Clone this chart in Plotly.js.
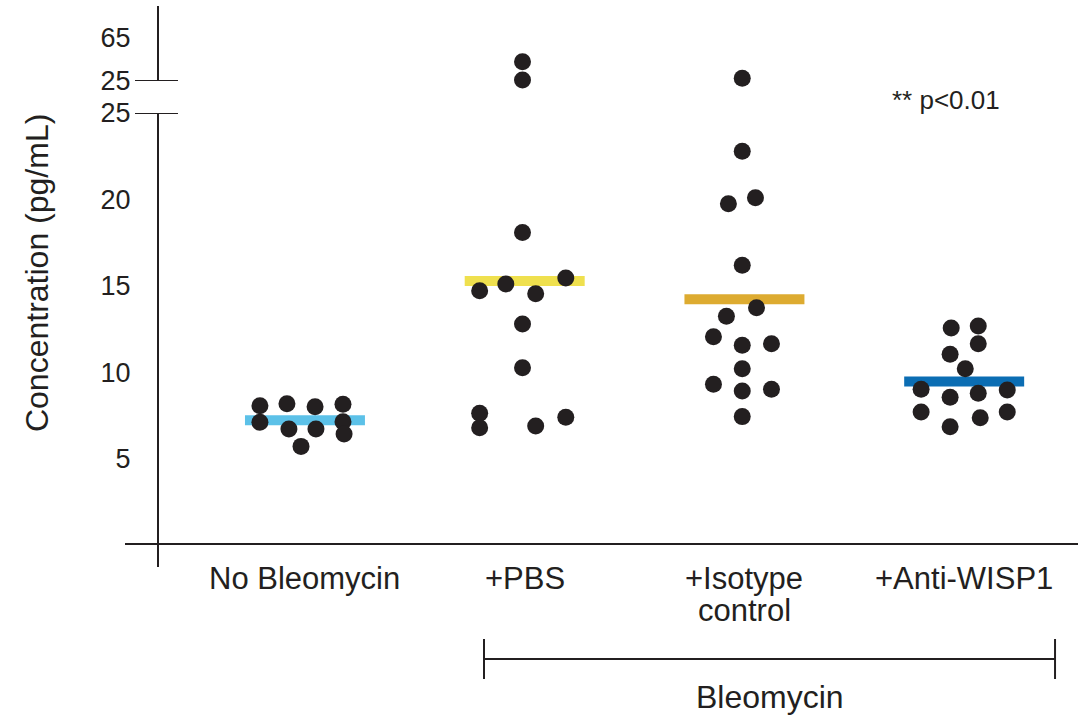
<!DOCTYPE html>
<html>
<head>
<meta charset="utf-8">
<script src="https://cdn.plot.ly/plotly-3.0.1.min.js"></script>
<style>
  html, body { margin: 0; padding: 0; background: #ffffff; }
  #chart { width: 1086px; height: 718px; }
</style>
</head>
<body>
<div id="chart"></div>
<script>
// Group labels along the x axis (one entry per text line)
const groupLabels = [['No Bleomycin'], ['+PBS'], ['+Isotype', 'control'], ['+Anti-WISP1']];

// Concentration per animal (pg/mL)
const noBleomycin = [8.08, 7.12, 8.20, 6.73, 8.02, 6.73, 5.73, 8.16, 7.16, 6.45];
const pbs = [43.0, 25.9, 18.10, 14.73, 15.12, 14.55, 15.46, 12.80, 10.28, 7.64, 6.81, 6.91, 7.41];
const isotypeControl = [27.5, 22.79, 19.76, 20.10, 16.20, 13.75, 13.25, 12.07, 11.57, 11.66, 10.22, 9.32, 8.93, 9.03, 7.45];
const antiWisp1 = [12.57, 12.69, 11.66, 11.05, 10.22, 9.03, 8.57, 8.80, 8.99, 7.72, 7.72, 7.39, 6.87];

// Horizontal swarm spread of each dot (x-axis units) so dots do not overlap
const spreadNoBleomycin = [-0.205, -0.205, -0.082, -0.073, 0.046, 0.050, -0.018, 0.173, 0.173, 0.178];
const spreadPbs = [-0.01, -0.01, -0.01, -0.205, -0.086, 0.05, 0.187, -0.01, -0.01, -0.205, -0.205, 0.05, 0.187];
const spreadIsotype = [-0.01, -0.01, -0.073, 0.05, -0.01, 0.055, -0.082, -0.141, -0.01, 0.123, -0.01, -0.141, -0.01, 0.123, -0.01];
const spreadAntiWisp1 = [-0.059, 0.064, 0.064, -0.064, 0.005, -0.196, -0.064, 0.064, 0.196, -0.196, 0.196, 0.073, -0.064];

const meanColors = ['#5cc1e8', '#efe04e', '#ddab30', '#0b6db3'];
const ink = '#231f20';
const fontFamily = '"Liberation Sans", Arial, Helvetica, sans-serif';

// The y axis is broken at 25: values above it are drawn on the upper segment
const BREAK = 25;

const series = [noBleomycin, pbs, isotypeControl, antiWisp1];
const spreads = [spreadNoBleomycin, spreadPbs, spreadIsotype, spreadAntiWisp1];

const traces = [];

// Group mean bars
series.forEach((vals, g) => {
  const mean = vals.reduce((a, b) => a + b, 0) / vals.length;
  traces.push({
    type: 'scatter', mode: 'lines',
    x: [g - 0.273, g + 0.273], y: [mean, mean],
    xaxis: 'x', yaxis: 'y',
    line: { color: meanColors[g], width: 10 },
    hoverinfo: 'skip', showlegend: false
  });
});

// Individual dots, split between the two axis segments
const lowX = [], lowY = [], highX = [], highY = [];
series.forEach((vals, g) => {
  vals.forEach((v, i) => {
    const x = g + spreads[g][i];
    if (v > BREAK) { highX.push(x); highY.push(v); }
    else { lowX.push(x); lowY.push(v); }
  });
});
const dotStyle = { color: ink, size: 17, line: { width: 0 } };
traces.push({ type: 'scatter', mode: 'markers', x: lowX, y: lowY, xaxis: 'x', yaxis: 'y',
  marker: dotStyle, cliponaxis: false, showlegend: false });
traces.push({ type: 'scatter', mode: 'markers', x: highX, y: highY, xaxis: 'x', yaxis: 'y2',
  marker: dotStyle, cliponaxis: false, showlegend: false });

const axisX = 0.0346;   // paper position of the vertical axis
const lineStyle = { color: ink, width: 2 };

// Category labels under the x axis, one annotation per text line
const categoryAnnotations = [];
groupLabels.forEach((lines, g) => {
  lines.forEach((txt, k) => {
    categoryAnnotations.push({
      xref: 'x', yref: 'paper', x: g, y: -0.067 - k * 0.0596,
      text: txt, showarrow: false, xanchor: 'center', yanchor: 'middle',
      font: { size: 31, color: ink }
    });
  });
});

const layout = {
  width: 1086, height: 718,
  margin: { l: 125, r: 8, t: 6, b: 175 },
  paper_bgcolor: '#ffffff', plot_bgcolor: '#ffffff',
  font: { family: fontFamily, color: ink },
  showlegend: false,
  xaxis: {
    range: [-0.819, 3.518],
    showticklabels: false, ticks: '',
    showline: true, linecolor: ink, linewidth: 2,
    showgrid: false, zeroline: false, anchor: 'y', fixedrange: true
  },
  yaxis: {
    domain: [0, 0.8007], range: [0.145, 25],
    tickvals: [5, 10, 15, 20, 25],
    tickfont: { size: 27, color: ink },
    ticks: '', ticklabelstandoff: 21,
    showline: true, linecolor: ink, linewidth: 2,
    showgrid: false, zeroline: false,
    anchor: 'free', position: axisX, fixedrange: true
  },
  yaxis2: {
    domain: [0.8603, 1], range: [25, 94.8],
    tickvals: [25, 65],
    tickfont: { size: 27, color: ink },
    ticks: '', ticklabelstandoff: 21,
    showline: true, linecolor: ink, linewidth: 2,
    showgrid: false, zeroline: false,
    anchor: 'free', position: axisX, fixedrange: true
  },
  shapes: [
    // cross ticks on both sides of the axis break
    { type: 'line', xref: 'paper', yref: 'y', x0: 0.0105, x1: 0.0556, y0: 25, y1: 25, line: lineStyle },
    { type: 'line', xref: 'paper', yref: 'y2', x0: 0.0105, x1: 0.0556, y0: 25, y1: 25, line: lineStyle },
    // vertical axis continues below the x axis
    { type: 'line', xref: 'paper', yref: 'paper', x0: axisX, x1: axisX, y0: 0, y1: -0.0447, line: lineStyle },
    // Bleomycin bracket
    { type: 'line', xref: 'paper', yref: 'paper', x0: 0.3767, x1: 0.9759, y0: -0.216, y1: -0.216, line: lineStyle },
    { type: 'line', xref: 'paper', yref: 'paper', x0: 0.3767, x1: 0.3767, y0: -0.1788, y1: -0.2533, line: lineStyle },
    { type: 'line', xref: 'paper', yref: 'paper', x0: 0.9759, x1: 0.9759, y0: -0.1788, y1: -0.2533, line: lineStyle }
  ],
  annotations: categoryAnnotations.concat([
    { xref: 'paper', yref: 'paper', x: -0.0923, y: 0.5028, text: 'Concentration (pg/mL)',
      textangle: -90, showarrow: false, xanchor: 'center', yanchor: 'middle',
      font: { size: 32, color: ink } },
    { xref: 'paper', yref: 'paper', x: 0.8615, y: 0.825, text: '** p<0.01',
      showarrow: false, xanchor: 'center', yanchor: 'middle',
      font: { size: 26, color: ink } },
    { xref: 'paper', yref: 'paper', x: 0.6768, y: -0.2868, text: 'Bleomycin',
      showarrow: false, xanchor: 'center', yanchor: 'middle',
      font: { size: 32, color: ink } }
  ])
};

Plotly.newPlot('chart', traces, layout, { staticPlot: true, displayModeBar: false });
</script>
</body>
</html>
